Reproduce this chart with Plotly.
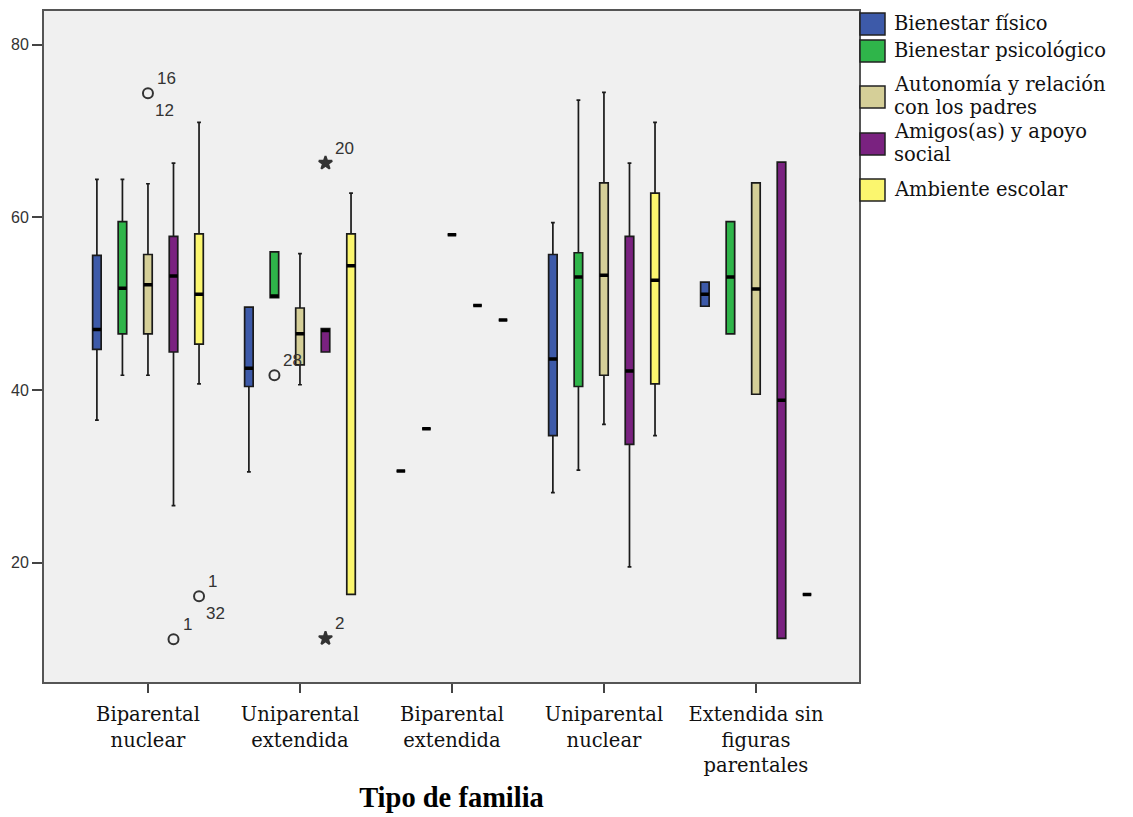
import plotly.graph_objects as go

# Family types (x axis) and the five well-being dimensions (series)
categories = ["Biparental<br>nuclear", "Uniparental<br>extendida", "Biparental<br>extendida",
              "Uniparental<br>nuclear", "Extendida sin<br>figuras<br>parentales"]
series_names = ["Bienestar físico", "Bienestar psicológico",
                "Autonomía y relación con los padres", "Amigos(as) y apoyo social",
                "Ambiente escolar"]
legend_lines = [["Bienestar físico"], ["Bienestar psicológico"],
                ["Autonomía y relación", "con los padres"],
                ["Amigos(as) y apoyo", "social"], ["Ambiente escolar"]]
colors = ["#3D5AA9", "#2FB54A", "#D5CF98", "#7A2280", "#FBF66E"]

# Box statistics per family type: lower whisker, Q1, median, Q3, upper whisker
fisico_low = [36.5, 30.5, 30.6, 28.1, 49.7]
fisico_q1 = [44.7, 40.4, 30.6, 34.7, 49.7]
fisico_med = [47.0, 42.5, 30.6, 43.6, 51.1]
fisico_q3 = [55.6, 49.6, 30.6, 55.7, 52.5]
fisico_high = [64.4, 49.6, 30.6, 59.4, 52.5]

psico_low = [41.7, 50.7, 35.5, 30.7, 46.5]
psico_q1 = [46.5, 50.7, 35.5, 40.4, 46.5]
psico_med = [51.8, 50.9, 35.5, 53.1, 53.1]
psico_q3 = [59.5, 56.0, 35.5, 55.9, 59.5]
psico_high = [64.4, 56.0, 35.5, 73.6, 59.5]

autonomia_low = [41.7, 40.6, 58.0, 36.0, 39.5]
autonomia_q1 = [46.5, 42.9, 58.0, 41.7, 39.5]
autonomia_med = [52.2, 46.5, 58.0, 53.3, 51.7]
autonomia_q3 = [55.7, 49.5, 58.0, 64.0, 64.0]
autonomia_high = [63.9, 55.8, 58.0, 74.5, 64.0]

amigos_low = [26.6, 44.4, 49.8, 19.5, 11.2]
amigos_q1 = [44.4, 44.4, 49.8, 33.7, 11.2]
amigos_med = [53.2, 46.9, 49.8, 42.2, 38.8]
amigos_q3 = [57.8, 47.1, 49.8, 57.8, 66.4]
amigos_high = [66.3, 47.1, 49.8, 66.3, 66.4]

escolar_low = [40.7, 16.3, 48.1, 34.7, 16.3]
escolar_q1 = [45.3, 16.3, 48.1, 40.7, 16.3]
escolar_med = [51.1, 54.4, 48.1, 52.7, 16.3]
escolar_q3 = [58.1, 58.1, 48.1, 62.8, 16.3]
escolar_high = [71.0, 62.8, 48.1, 71.0, 16.3]

# Outliers (circles) and extreme values (stars) with their case numbers
out_category = [0, 0, 0, 1, 1, 1]
out_series = [2, 4, 3, 1, 3, 3]
out_value = [74.4, 16.1, 11.1, 41.7, 66.3, 11.2]
out_symbol = ["circle-open", "circle-open", "circle-open", "circle-open", "star", "star"]
out_label_top = ["16", "1", "1", "28", "20", "2"]
out_label_bottom = ["12", "32", "", "", "", ""]

stats = [
    (fisico_low, fisico_q1, fisico_med, fisico_q3, fisico_high),
    (psico_low, psico_q1, psico_med, psico_q3, psico_high),
    (autonomia_low, autonomia_q1, autonomia_med, autonomia_q3, autonomia_high),
    (amigos_low, amigos_q1, amigos_med, amigos_q3, amigos_high),
    (escolar_low, escolar_q1, escolar_med, escolar_q3, escolar_high),
]

# Clustered layout: each series is shifted within its family-type slot
box_step = 0.168
box_width = 0.056
n_series = len(series_names)


def slot(cat, k):
    return cat + (k - (n_series - 1) / 2) * box_step


fig = go.Figure()

for k, (low, q1, med, q3, high) in enumerate(stats):
    xs = [slot(i, k) for i in range(len(categories))]
    fig.add_trace(go.Box(
        x=xs, q1=q1, median=med, q3=q3, lowerfence=low, upperfence=high,
        orientation="v", name=series_names[k], fillcolor=colors[k],
        line=dict(color="#1a1a1a", width=1.7), width=box_width,
        whiskerwidth=0.45, boxpoints=False, showlegend=False, hoverinfo="skip"))
    # heavy median bar
    fig.add_trace(go.Box(
        x=xs, q1=med, median=med, q3=med, lowerfence=med, upperfence=med,
        orientation="v", fillcolor="black", line=dict(color="black", width=3.5),
        width=box_width, whiskerwidth=0, boxpoints=False, showlegend=False,
        hoverinfo="skip"))

out_x = [slot(c, s) for c, s in zip(out_category, out_series)]
fig.add_trace(go.Scatter(
    x=out_x, y=out_value, mode="markers",
    marker=dict(symbol=out_symbol, size=10, color="#333333",
                line=dict(color="#333333", width=2)),
    showlegend=False, hoverinfo="skip"))

# Case-number labels beside each outlier
label_font = dict(family="Liberation Sans, Arial, sans-serif", size=17, color="#333333")
annotations = []
for x, y, top, bottom in zip(out_x, out_value, out_label_top, out_label_bottom):
    if top:
        annotations.append(dict(x=x, y=y, text=top, xanchor="left", yanchor="middle",
                                xshift=7, yshift=15, showarrow=False, font=label_font))
    if bottom:
        annotations.append(dict(x=x, y=y, text=bottom, xanchor="left", yanchor="middle",
                                xshift=5, yshift=-17, showarrow=False, font=label_font))

# Legend drawn beside the plot frame: colour swatches and wrapped labels
legend_font = dict(family="DejaVu Serif, serif", size=19.5, color="#111111")
swatch_tops = [2, 29, 75, 122, 168]     # pixels below the top of the plot frame
swatch_size = 22
line_gap = 23.5
shapes = []
for k, top in enumerate(swatch_tops):
    shapes.append(dict(
        type="rect", xref="paper", yref="paper", xsizemode="pixel", ysizemode="pixel",
        xanchor=1, yanchor=1, x0=1, x1=1 + 25, y0=-top, y1=-(top + swatch_size),
        fillcolor=colors[k], line=dict(color="#222222", width=1.5)))
    centre = top + swatch_size / 2
    lines = legend_lines[k]
    for j, txt in enumerate(lines):
        yc = centre + (j - (len(lines) - 1) / 2) * line_gap
        annotations.append(dict(
            text=txt, xref="paper", yref="paper", x=1, y=1, xanchor="left",
            yanchor="middle", xshift=33, yshift=-yc + 1, showarrow=False, font=legend_font))

fig.update_layout(
    width=1133, height=817,
    margin=dict(l=44, r=274, t=9, b=134),
    paper_bgcolor="white", plot_bgcolor="#F0F0F0",
    boxmode="overlay", showlegend=False,
    shapes=shapes, annotations=annotations,
    xaxis=dict(
        range=[-0.684, 4.678], tickmode="array", tickvals=list(range(len(categories))),
        ticktext=categories, ticks="outside", ticklen=9, tickwidth=2, tickcolor="#444444",
        ticklabelstandoff=5,
        showline=True, linecolor="#555555", linewidth=2, mirror=True,
        showgrid=False, zeroline=False,
        tickfont=dict(family="DejaVu Serif, serif", size=19.5, color="#111111"),
        title=dict(text="<b>Tipo de familia</b>", standoff=11,
                   font=dict(family="Liberation Serif, Times New Roman, serif",
                             size=28.5, color="#000000"))),
    yaxis=dict(
        range=[6.15, 83.92], tickmode="array", tickvals=[20, 40, 60, 80],
        ticks="outside", ticklen=10, tickwidth=2, tickcolor="#444444",
        showline=True, linecolor="#555555", linewidth=2, mirror=True,
        showgrid=False, zeroline=False,
        tickfont=dict(family="Liberation Sans, Arial, sans-serif", size=16, color="#333333")),
)

fig.write_html("out.html")
